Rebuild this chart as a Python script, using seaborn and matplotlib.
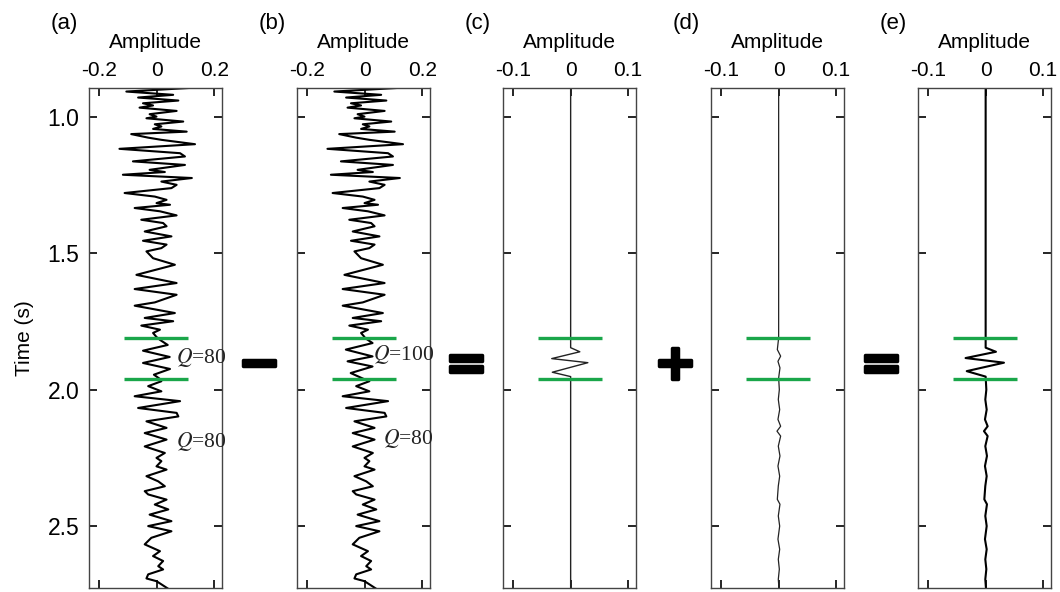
import numpy as np
import matplotlib
matplotlib.use('Agg')
import matplotlib.pyplot as plt
import matplotlib.patheffects as pe
import seaborn as sns

sns.set_style('ticks')
plt.rcParams['font.family'] = ['Liberation Sans', 'DejaVu Sans']
plt.rcParams['axes.unicode_minus'] = False
plt.rcParams['mathtext.fontset'] = 'stix'
plt.rcParams['text.color'] = 'k'
plt.rcParams['axes.labelcolor'] = 'k'
plt.rcParams['xtick.color'] = 'k'
plt.rcParams['ytick.color'] = 'k'

# trace (a): (time s, amplitude) at turning points
time_a = [0.893, 0.907, 0.919, 0.929, 0.940, 0.950, 0.958, 0.966, 0.978, 0.990,
          0.999, 1.005, 1.017, 1.027, 1.035, 1.044, 1.054, 1.063, 1.076, 1.084,
          1.100, 1.117, 1.133, 1.145, 1.163, 1.176, 1.194, 1.202, 1.212, 1.224,
          1.237, 1.249, 1.261, 1.279, 1.292, 1.304, 1.316, 1.322, 1.334, 1.346,
          1.361, 1.377, 1.389, 1.401, 1.420, 1.438, 1.454, 1.468, 1.481, 1.493,
          1.518, 1.542, 1.579, 1.609, 1.631, 1.652, 1.680, 1.692, 1.719, 1.737,
          1.749, 1.765, 1.780, 1.792, 1.807,
          1.818, 1.836, 1.857, 1.880, 1.902, 1.924, 1.945, 1.960,
          1.969, 1.987, 2.006, 2.024, 2.042, 2.067, 2.085,
          2.098, 2.116, 2.140, 2.159, 2.183, 2.208, 2.232, 2.250, 2.262, 2.281,
          2.293, 2.317, 2.336, 2.354, 2.372, 2.384, 2.403, 2.421, 2.439, 2.458,
          2.482, 2.500, 2.519, 2.543, 2.567, 2.592, 2.610, 2.628, 2.647, 2.659,
          2.677, 2.692, 2.702, 2.730]
amp_a = [0.127, -0.106, 0.057, -0.065, 0.075, -0.048, -0.013, -0.060, 0.069, -0.025,
         -0.001, -0.036, 0.092, -0.007, 0.016, -0.013, 0.104, -0.089, -0.030, 0.016,
         0.133, -0.130, 0.081, 0.098, -0.083, 0.098, -0.025, 0.028, -0.118, 0.122,
         0.016, 0.069, 0.051, -0.112, -0.007, 0.034, -0.001, 0.046, -0.077, 0.011,
         0.069, -0.054, 0.022, 0.034, -0.042, 0.051, -0.048, 0.034, 0.016, -0.036,
         -0.013, 0.063, -0.071, 0.069, -0.077, 0.069, -0.007, -0.077, 0.063, -0.042,
         0.057, -0.054, 0.011, -0.013, -0.001,
         0.012, 0.038, -0.048, 0.045, -0.048, 0.046, -0.010, 0.010,
         0.016, -0.030, 0.016, -0.077, 0.081, -0.065, 0.069,
         0.075, -0.036, 0.034, -0.042, 0.034, -0.042, 0.028, -0.001, 0.016, -0.001,
         0.034, -0.036, 0.005, 0.028, -0.042, -0.030, 0.034, -0.007, 0.040, -0.025,
         0.051, -0.030, 0.051, -0.019, -0.042, 0.011, -0.013, 0.022, 0.005, 0.022,
         -0.030, -0.036, -0.001, 0.040]

# trace (b) differs from (a) only inside the Q=100 window
time_b_win = [1.810, 1.829, 1.853, 1.878, 1.896, 1.915, 1.939, 1.960]
amp_b_win = [0.000, 0.027, -0.066, 0.027, -0.060, 0.027, -0.049, -0.005]

# (c) difference a - b
time_c = [0.89, 1.846, 1.861, 1.886, 1.901, 1.936, 1.952, 2.73]
amp_c = [0.0, 0.0, 0.016, -0.033, 0.030, -0.032, 0.0, 0.0]

# (d) residual, tiny wiggles
time_d = [0.89, 1.81, 1.853, 1.877, 1.896, 1.920, 1.957, 2.000, 2.036, 2.073,
          2.109, 2.134, 2.152, 2.170, 2.207, 2.243, 2.280, 2.317, 2.353, 2.402,
          2.420, 2.463, 2.500, 2.548, 2.585, 2.622, 2.658, 2.695, 2.730]
amp_d = [0.0, 0.0, -0.0023, 0.0035, -0.0012, 0.0023, 0.0, 0.0012, -0.0006, 0.0018,
         -0.0012, 0.0035, -0.0029, 0.0035, -0.0006, 0.0023, -0.0012, 0.0018, -0.0006, -0.0023,
         0.0023, -0.0006, 0.0018, -0.0012, 0.0018, -0.0006, 0.0012, -0.0006, 0.0006]

# (e) = (c) + (d)
time_e_win = [0.89, 1.846, 1.861, 1.884, 1.901, 1.932, 1.952]
amp_e_win = [0.0, 0.0, 0.018, -0.035, 0.032, -0.033, 0.0]

win_t = [1.81, 1.96]
panel_tags = ['(a)', '(b)', '(c)', '(d)', '(e)']
q_labels = [[(0.068, 1.883, '$Q$=80'), (0.068, 2.19, '$Q$=80')],
            [(0.029, 1.870, '$Q$=100'), (0.064, 2.18, '$Q$=80')],
            [], [], []]

ta = np.array(time_a)
aa = np.array(amp_a)
time_b = np.concatenate([ta[ta < win_t[0]], time_b_win, ta[ta > win_t[1]]])
amp_b = np.concatenate([aa[ta < win_t[0]], amp_b_win, aa[ta > win_t[1]]])

td = np.array(time_d)
ad = np.array(amp_d)
time_e = np.concatenate([time_e_win, td[td > win_t[1]]])
amp_e = np.concatenate([amp_e_win, ad[td > win_t[1]]])

traces = [(time_a, amp_a, 1.5, 'k'), (time_b, amp_b, 1.5, 'k'),
          (time_c, amp_c, 1.0, '#222222'), (time_d, amp_d, 0.9, '#222222'),
          (time_e, amp_e, 1.5, 'k')]

W, H = 1060, 592
fig = plt.figure(figsize=(W / 100, H / 100), dpi=100)
lefts = [89, 297, 503, 711, 918]
for i in range(5):
    ax = fig.add_axes([lefts[i] / W, 4 / H, 133 / W, 500 / H])
    t, a, lw, col = traces[i]
    sns.lineplot(x=a, y=t, sort=False, estimator=None, color=col, lw=lw, ax=ax)
    if i < 2:
        ax.set_xlim(-0.236, 0.227)
        ax.set_xticks([-0.2, 0, 0.2])
        ax.set_xticklabels(['-0.2', '0', '0.2'])
        gx = (-0.115, 0.108)
    else:
        ax.set_xlim(-0.118, 0.114)
        ax.set_xticks([-0.1, 0, 0.1])
        ax.set_xticklabels(['-0.1', '0', '0.1'])
        gx = (-0.057, 0.054)
    ax.hlines(win_t, gx[0], gx[1], color='#1aa64a', lw=2.4, zorder=3)
    ax.set_ylim(2.727, 0.894)
    ax.set_yticks([1.0, 1.5, 2.0, 2.5])
    if i == 0:
        ax.set_yticklabels(['1.0', '1.5', '2.0', '2.5'], fontsize=16.5)
        ax.set_ylabel('Time (s)', fontsize=15, labelpad=10)
    else:
        ax.set_yticklabels([])
        ax.set_ylabel('')
    ax.xaxis.tick_top()
    ax.xaxis.set_label_position('top')
    ax.set_xlabel('Amplitude', fontsize=15, labelpad=9)
    ax.tick_params(axis='both', which='both', direction='in', top=True, bottom=True,
                   left=True, right=True, length=6, width=1.2, color='k')
    ax.tick_params(axis='x', labelsize=15, pad=6)
    ax.tick_params(axis='y', pad=7)
    for s in ax.spines.values():
        s.set_color('#444444')
        s.set_linewidth(1.0)
    ax.text(-0.29, 1.13, panel_tags[i], transform=ax.transAxes, fontsize=16,
            ha='left', va='center')
    for qx, qt, qs in q_labels[i]:
        ax.text(qx, qt, qs, fontsize=15.5, family='Liberation Serif', va='center',
                ha='left', color='#222222')

ops = [(259, '−'), (466, '='), (675, '+'), (881, '=')]
for x, s in ops:
    fig.text(x / W, 1 - 365 / H, s, fontsize=36, fontweight='bold', ha='center',
             va='center', family='DejaVu Sans', color='k',
             path_effects=[pe.withStroke(linewidth=2.5, foreground='k')])

fig.savefig('out.png', dpi=100)
